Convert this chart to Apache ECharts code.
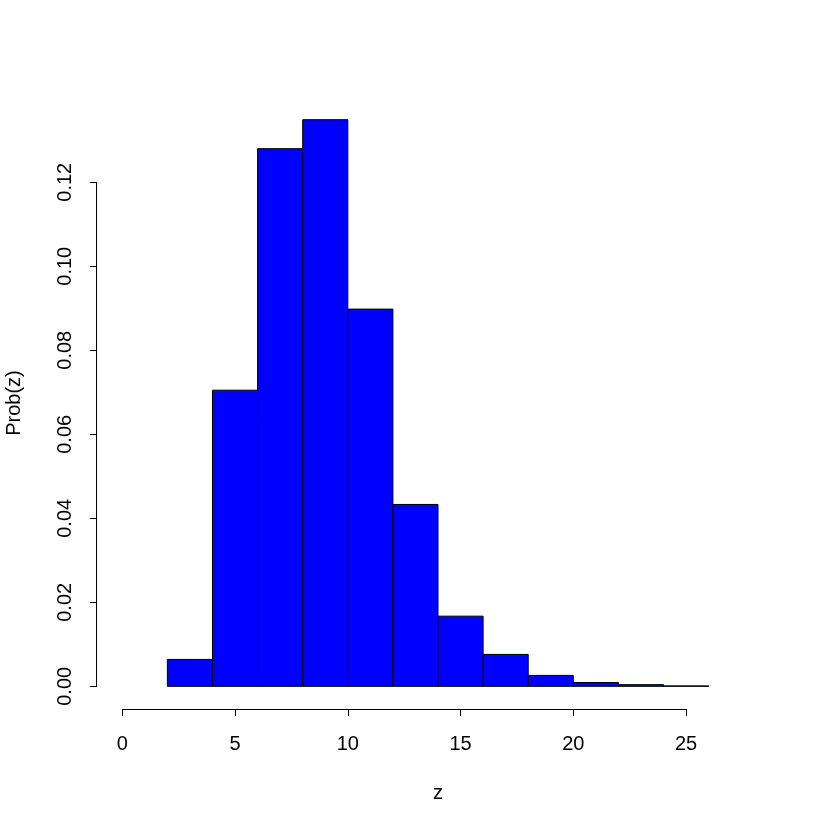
<!DOCTYPE html>
<html>
<head>
<meta charset="utf-8">
<script src="https://cdn.jsdelivr.net/npm/echarts@6/dist/echarts.min.js"></script>
<style>
html,body{margin:0;padding:0;background:#fff;}
#chart{width:830px;height:830px;}
</style>
</head>
<body>
<div id="chart"></div>
<script>
// Data
var binStarts = [2, 4, 6, 8, 10, 12, 14, 16, 18, 20, 22, 24];
var binEnds   = [4, 6, 8, 10, 12, 14, 16, 18, 20, 22, 24, 26];
var density   = [0.0064, 0.0705, 0.1280, 0.1349, 0.0898, 0.0433, 0.0167, 0.0076, 0.0026, 0.0009, 0.0004, 0.0001];
var xTicks = [0, 5, 10, 15, 20, 25];
var yTicks = [0, 0.02, 0.04, 0.06, 0.08, 0.10, 0.12];
var xTitle = 'z';
var yTitle = 'Prob(z)';

var barData = binStarts.map(function (s, i) { return [s, binEnds[i], density[i]]; });

var FONT = 'Liberation Sans, Arial, Helvetica, sans-serif';
var FS = 20;
var chart = echarts.init(document.getElementById('chart'), null, {renderer: 'canvas'});

chart.setOption({
  backgroundColor: '#ffffff',
  animation: false,
  grid: {left: 97, right: 51, top: 97, bottom: 121, containLabel: false, outerBoundsMode: 'none'},
  xAxis: {
    type: 'value', min: -1.12, max: 29.12,
    name: xTitle, nameLocation: 'middle', nameGap: 74,
    nameTextStyle: {color: '#000', fontSize: FS, fontFamily: FONT},
    axisLine: {show: false, onZero: false},
    axisTick: {show: true, inside: false, length: 7, customValues: xTicks, lineStyle: {color: '#000', width: 1}},
    axisLabel: {show: true, customValues: xTicks, margin: 25, color: '#000', fontSize: FS, fontFamily: FONT,
      formatter: function (v) { return String(v); }},
    splitLine: {show: false}
  },
  yAxis: {
    type: 'value', min: -0.0054, max: 0.1403,
    name: yTitle, nameLocation: 'middle', nameGap: 73, nameRotate: 90,
    nameTextStyle: {color: '#000', fontSize: FS, fontFamily: FONT},
    axisLine: {show: false, onZero: false},
    axisTick: {show: true, inside: false, length: 7, customValues: yTicks, lineStyle: {color: '#000', width: 1}},
    axisLabel: {show: true, customValues: yTicks, rotate: 90, margin: 22, color: '#000', fontSize: FS, fontFamily: FONT,
      formatter: function (v) { return v.toFixed(2); }},
    splitLine: {show: false}
  },
  series: [
    {
      type: 'custom',
      clip: false,
      data: barData,
      renderItem: function (params, api) {
        var p0 = api.coord([api.value(0), api.value(2)]);
        var p1 = api.coord([api.value(1), 0]);
        return {
          type: 'rect',
          shape: {x: p0[0], y: p0[1], width: p1[0] - p0[0], height: p1[1] - p0[1]},
          style: {fill: '#0000ff', stroke: '#000', lineWidth: 1}
        };
      }
    },
    {
      type: 'custom',
      clip: false,
      silent: true,
      data: [[0]],
      renderItem: function (params, api) {
        var cs = params.coordSys;
        var xa = api.coord([xTicks[0], 0])[0];
        var xb = api.coord([xTicks[xTicks.length - 1], 0])[0];
        var yBottom = Math.round(cs.y + cs.height) + 0.5;
        var ya = api.coord([0, yTicks[0]])[1];
        var yb = api.coord([0, yTicks[yTicks.length - 1]])[1];
        var xLeft = Math.round(cs.x) - 0.5;
        return {
          type: 'group',
          children: [
            {type: 'line', shape: {x1: xa, y1: yBottom, x2: xb, y2: yBottom}, style: {stroke: '#000', lineWidth: 1}},
            {type: 'line', shape: {x1: xLeft, y1: ya, x2: xLeft, y2: yb}, style: {stroke: '#000', lineWidth: 1}}
          ]
        };
      }
    }
  ]
});
</script>
</body>
</html>
